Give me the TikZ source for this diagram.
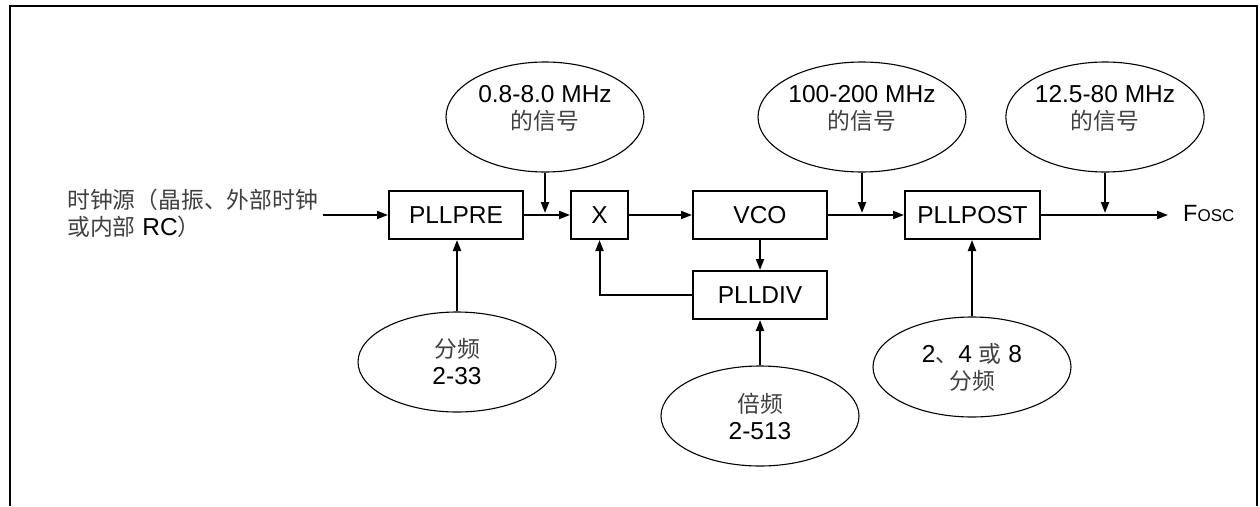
\documentclass[tikz,border=0pt]{standalone}
\usepackage{fontspec}
\setmainfont{Liberation Sans}
\newfontfamily\cjk{Noto Sans CJK SC}
\usetikzlibrary{arrows.meta,shapes.geometric}
\newcommand\zh[1]{{\fontsize{22.8}{27}\cjk\color{black!75}#1}}
\begin{document}
\begin{tikzpicture}[x=1pt,y=-1pt,
  every node/.style={font=\fontsize{24.5}{27}\selectfont},
  box/.style={draw,line width=2pt,minimum height=48pt,inner sep=0pt},
  ell/.style={draw,ellipse,line width=1.1pt,minimum width=198pt,inner sep=0pt,align=center},
  arr/.style={line width=2pt,-{Triangle[length=11pt,width=8pt]}},
  frame/.style={line width=2.5pt}]
\useasboundingbox (0,0) rectangle (1260,506);
\fill[white] (0,0) rectangle (1260,506);
\draw[frame] (10,506) -- (10,6) -- (1257,6) -- (1257,506);

% boxes
\node[box,minimum width=134pt] (pre) at (456,215) {PLLPRE};
\node[box,minimum width=57pt] (x) at (599.5,215) {X};
\node[box,minimum width=134pt] (vco) at (760,215) {VCO};
\node[box,minimum width=134pt] (div) at (760,295) {PLLDIV};
\node[box,minimum width=135pt] (post) at (972.5,215) {PLLPOST};

% source text and output
\node[anchor=west,align=left,inner sep=0pt] (src) at (67,213) {\zh{时钟源（晶振、外部时钟}\\\zh{或内部} RC\zh{）}};
\coordinate (in) at (323,215);
\node[anchor=west,inner sep=0pt] (fosc) at (1183,213) {\fontsize{23.5}{25}\selectfont F\fontsize{17}{19}\selectfont OSC};
\coordinate (out) at (1168,215);

% ellipses
\node[ell,minimum height=110pt] (e1) at (545,117) {0.8-8.0 MHz\\\zh{的信号}\\[-8pt]};
\node[ell,minimum height=110pt] (e2) at (862,117) {100-200 MHz\\\zh{的信号}\\[-8pt]};
\node[ell,minimum height=110pt] (e3) at (1105,117) {12.5-80 MHz\\\zh{的信号}\\[-8pt]};
\node[ell,minimum height=100pt] (b1) at (457,362) {\zh{分频}\\2-33};
\node[ell,minimum height=100pt] (b2) at (760,416) {\zh{倍频}\\2-513};
\node[ell,minimum height=100pt] (b3) at (972,367) {2\zh{、}4 \zh{或} 8\\\zh{分频}};

\coordinate (j1) at (545,213);
\coordinate (j2) at (862,213);
\coordinate (j3) at (1105,213);

% connectors
\draw[arr] (in) -- (pre.west);
\draw[arr] (pre) -- (x);
\draw[arr] (x) -- (vco);
\draw[arr] (vco) -- (post);
\draw[arr] (post.east) -- (out);
\draw[arr] (vco) -- (div);
\draw[arr] (div.west) -| (x.south);
\draw[arr] (e1.south) -- (j1);
\draw[arr] (e2.south) -- (j2);
\draw[arr] (e3.south) -- (j3);
\draw[arr] (b1.north) -- (b1.north |- pre.south);
\draw[arr] (b2.north) -- (div.south);
\draw[arr] (b3.north) -- (b3.north |- post.south);
\end{tikzpicture}
\end{document}
